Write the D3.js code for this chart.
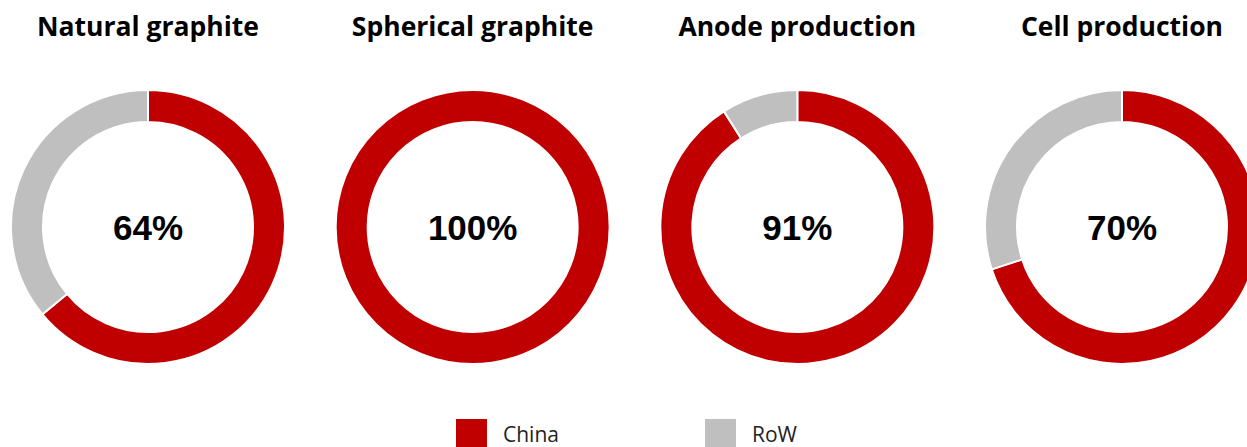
<!DOCTYPE html>
<html lang="en">
<meta charset="UTF-8">
<title>China share of graphite supply chain</title>
<script src="https://d3js.org/d3.v7.min.js"></script>
<style>
body { margin: 0; overflow: hidden; background: #fff; }
.title { font-family: "Open Sans", sans-serif; font-weight: 700; font-size: 26.5px; fill: #000; }
.pct { font-family: "Liberation Sans", Arial, sans-serif; font-weight: 700; font-size: 35px; fill: #000; }
.legend-label { font-family: "Open Sans", sans-serif; font-size: 21px; fill: #222; }
</style>
<body>
<svg width="1247" height="447"></svg>
<script>
// stages of the chain and China's share (%)
const stages = ['Natural graphite', 'Spherical graphite', 'Anode production', 'Cell production'];
const chinaShare = [64, 100, 91, 70];
const seriesNames = ['China', 'RoW'];
const seriesColors = ['#c00000', '#bfbfbf'];

const svg = d3.select('svg');

const x = d3.scalePoint()
  .domain(stages)
  .range([148, 1122]);

const color = d3.scaleOrdinal()
  .domain(seriesNames)
  .range(seriesColors);

const cy = 227;
const outerR = 137;
const innerR = 105;

const pie = d3.pie().sort(null).value(d => d.value);
const arc = d3.arc().innerRadius(innerR).outerRadius(outerR);

stages.forEach((stage, i) => {
  const g = svg.append('g')
    .attr('transform', `translate(${x(stage)},${cy})`);

  const parts = [
    {name: 'China', value: chinaShare[i]},
    {name: 'RoW', value: 100 - chinaShare[i]}
  ];

  g.selectAll('path')
    .data(pie(parts).filter(d => d.data.value > 0))
    .enter().append('path')
      .attr('d', arc)
      .attr('fill', d => color(d.data.name))
      .attr('stroke', '#fff')
      .attr('stroke-width', 2);

  g.append('text')
    .attr('class', 'pct')
    .attr('text-anchor', 'middle')
    .attr('y', 13)
    .text(chinaShare[i] + '%');

  svg.append('text')
    .attr('class', 'title')
    .attr('text-anchor', 'middle')
    .attr('x', x(stage))
    .attr('y', 36)
    .text(stage);
});

// legend
const legend = svg.append('g')
  .attr('transform', 'translate(456,419)');

const item = legend.selectAll('g')
  .data(seriesNames)
  .enter().append('g')
    .attr('transform', (d, i) => `translate(${i * 249},0)`);

item.append('rect')
  .attr('width', 31)
  .attr('height', 31)
  .attr('fill', d => color(d));

item.append('text')
  .attr('class', 'legend-label')
  .attr('x', 47)
  .attr('y', 23)
  .text(d => d);
</script>
</body>
</html>
